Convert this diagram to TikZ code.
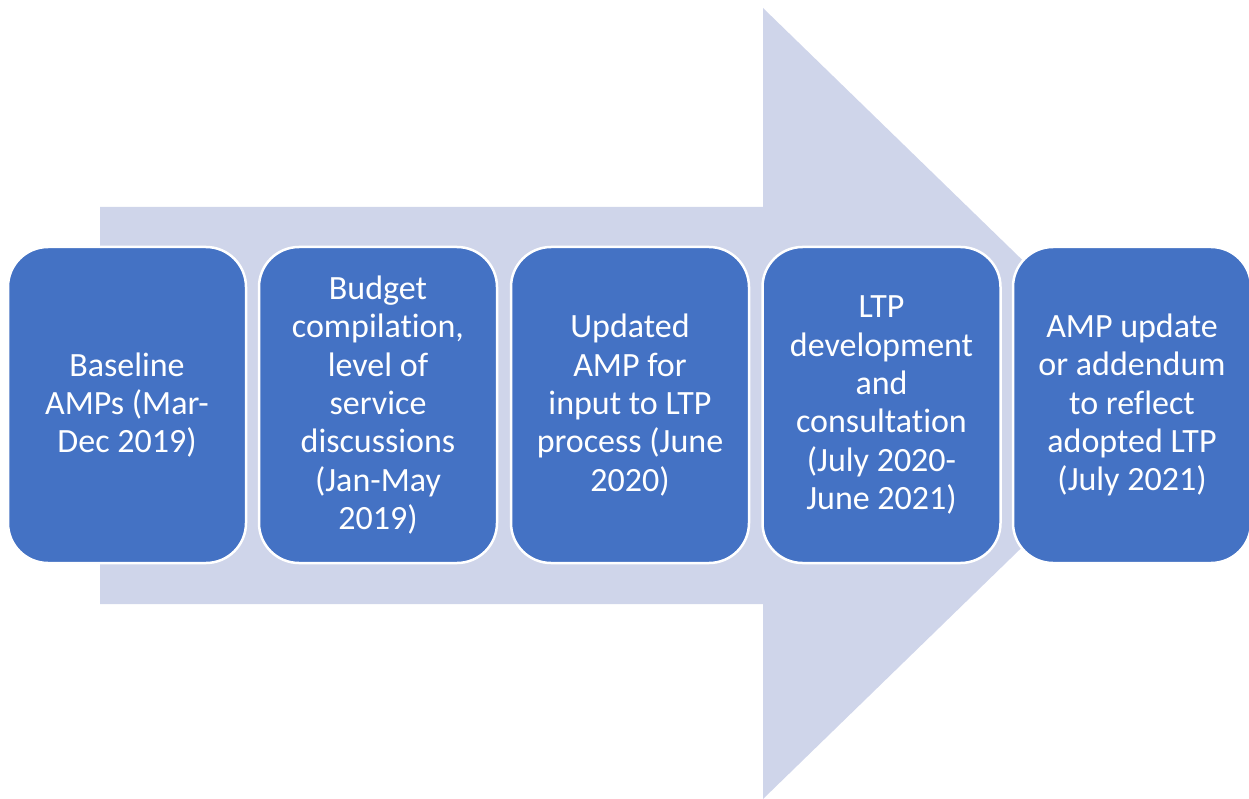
\documentclass[tikz,border=0pt]{standalone}
\usepackage{fontspec}
\setmainfont[Ligatures={NoCommon}]{Carlito}
\definecolor{boxblue}{HTML}{4472C4}
\definecolor{arrowfill}{HTML}{CFD5EA}
\begin{document}
\begin{tikzpicture}[x=1pt,y=-1pt,
  stagebox/.style={draw=white,line width=2.5pt,fill=boxblue,rounded corners=40pt,
    minimum width=238pt,minimum height=316pt,inner sep=0pt,text=white,align=center,
    font=\fontsize{34}{38.3}\selectfont}]
\useasboundingbox (0,0) rectangle (1249,799);
\fill[arrowfill] (100,207) -- (763,207) -- (763,8) -- (1170,403.5) -- (763,799) -- (763,604) -- (100,604) -- cycle;
\begin{scope}
\clip (0,0) rectangle (1249,799);
\node[stagebox] (b1) at (127,405) {Baseline\\AMPs (Mar-\\Dec 2019)};
\node[stagebox] (b2) at (378,405) {Budget\\compilation,\\level of\\service\\discussions\\(Jan-May\\2019)};
\node[stagebox] (b3) at (630,405) {Updated\\AMP for\\input to LTP\\process (June\\2020)};
\node[stagebox] (b4) at (881.5,405) {LTP\\development\\and\\consultation\\(July 2020-\\June 2021)};
\node[stagebox] (b5) at (1132,405) {AMP update\\or addendum\\to reflect\\adopted LTP\\(July 2021)};
\end{scope}
\end{tikzpicture}
\end{document}
